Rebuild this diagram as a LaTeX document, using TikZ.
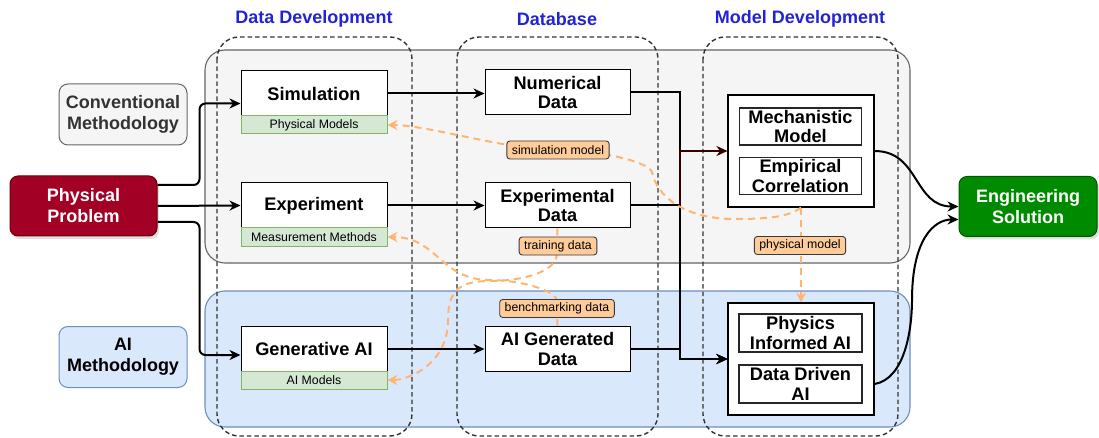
\documentclass[tikz,border=0pt]{standalone}
\usepackage{fontspec}
\setmainfont{Liberation Sans}
\usetikzlibrary{arrows.meta,shadows}

\definecolor{titleblue}{RGB}{34,34,214}
\definecolor{convfill}{HTML}{F5F5F5}
\definecolor{convline}{HTML}{666666}
\definecolor{convtext}{HTML}{333333}
\definecolor{aifill}{HTML}{DAE8FC}
\definecolor{ailine}{HTML}{6C8EBF}
\definecolor{stripfill}{HTML}{D5E8D4}
\definecolor{stripline}{HTML}{82B366}
\definecolor{probred}{HTML}{A20025}
\definecolor{probline}{HTML}{6F0000}
\definecolor{solgreen}{HTML}{008A00}
\definecolor{solline}{HTML}{005700}
\definecolor{orangeline}{HTML}{FFB570}
\definecolor{tagfill}{HTML}{FFCC99}
\definecolor{tagline}{HTML}{36393D}
\definecolor{colline}{HTML}{333333}
\definecolor{darkflow}{HTML}{330000}

\begin{document}
\begin{tikzpicture}[x=1pt,y=-1pt,
  boxfont/.style={font=\fontsize{18.2}{19.5}\selectfont\bfseries},
  procbox/.style={draw=black, line width=1pt, fill=white, minimum width=146pt,
    minimum height=45pt, align=center, inner sep=2pt, boxfont},
  stripbox/.style={draw=stripline, fill=stripfill, line width=1pt, minimum width=146pt,
    minimum height=18pt, inner sep=0pt, font=\fontsize{12.3}{14}\selectfont},
  outerbox/.style={draw=black, line width=1.1pt, fill=white, minimum width=146pt,
    minimum height=112pt},
  innerbox/.style={draw=black!85, line width=1.1pt, fill=white, minimum width=122pt,
    minimum height=37pt, align=center, inner sep=1pt, boxfont},
  sidebox/.style={rounded corners=9pt, line width=1pt, minimum width=128pt,
    minimum height=61pt, align=center, font=\fontsize{18}{21}\selectfont\bfseries},
  endbox/.style={rounded corners=8pt, line width=1pt, minimum height=60pt, align=center,
    text=white, font=\fontsize{18}{21}\selectfont\bfseries,
    drop shadow={shadow xshift=2pt, shadow yshift=-3pt, opacity=0.25}},
  column/.style={draw=colline, dash pattern=on 4.5pt off 3pt, line width=1.4pt,
    rounded corners=22pt},
  lane/.style={rounded corners=20pt, line width=1.1pt},
  flow/.style={line width=2pt, -{Stealth[length=11pt,width=10pt,inset=3.5pt]}},
  odash/.style={draw=orangeline, line width=2pt, dash pattern=on 7pt off 5pt,
    -{Stealth[length=10pt,width=10pt,inset=3.5pt]}},
  tag/.style={draw=tagline, fill=tagfill, rounded corners=3pt, line width=0.9pt,
    font=\fontsize{12.3}{14}\selectfont, inner xsep=5pt, inner ysep=0pt, minimum height=18pt},
  heading/.style={text=titleblue, font=\fontsize{18}{21}\selectfont\bfseries}
]
\useasboundingbox (0,0) rectangle (1099,438);

% swim lanes
\draw[lane, fill=convfill, draw=convline] (205,50) rectangle (910,263);
\draw[lane, fill=aifill, draw=ailine] (205,291) rectangle (910,427);

% stage columns
\draw[column] (217,37) rectangle (412,436);
\draw[column] (457,37) rectangle (658,436);
\draw[column] (703,37) rectangle (898,436);

% headings
\node[heading] (hData) at (314,19) {Data Development};
\node[heading] (hBase) at (557,19) {Database};
\node[heading] (hModel) at (800,19) {Model Development};

% lane labels
\node[sidebox, fill=convfill, draw=convline, text=convtext] (conv) at (123,114.5) {Conventional\\Methodology};
\node[sidebox, fill=aifill, draw=ailine] (aim) at (123,357) {AI\\Methodology};

% problem and solution
\node[endbox, fill=probred, draw=probline, minimum width=147pt] (prob) at (83.5,206) {Physical\\Problem};
\node[endbox, fill=solgreen, draw=solline, minimum width=138pt] (sol) at (1028,206.5) {Engineering\\Solution};

% data development
\node[procbox] (sim) at (314,93.5) {Simulation};
\node[stripbox] (phys) at (314,125) {Physical Models};
\node[procbox] (exp) at (314,205.5) {Experiment};
\node[stripbox] (meas) at (314,237) {Measurement Methods};
\node[procbox] (gen) at (314,349) {Generative AI};
\node[stripbox] (aimod) at (314,380) {AI Models};

% database
\node[procbox, minimum width=145pt] (num) at (557.5,92.5) {Numerical\\Data};
\node[procbox, minimum width=145pt] (expd) at (557.5,205.5) {Experimental\\Data};
\node[procbox, minimum width=145pt] (aid) at (557.5,349) {AI Generated\\Data};

% model development
\node[outerbox] (cm) at (801,151) {};
\node[innerbox] (mech) at (800.5,126.5) {Mechanistic\\Model};
\node[innerbox] (emp) at (800.5,176) {Empirical\\Correlation};
\node[outerbox] (am) at (801,359) {};
\node[innerbox, minimum height=38pt, minimum width=123pt] (piai) at (800.5,333) {Physics\\Informed AI};
\node[innerbox, minimum height=38pt, minimum width=123pt] (ddai) at (800.5,384) {Data Driven\\AI};

% main flow
\draw[flow, rounded corners=6pt] ([yshift=21pt]prob.east) -- ++(42,0) |- ([yshift=-10pt]sim.west);
\draw[flow] (prob.east) -- (exp.west);
\draw[flow, rounded corners=6pt] ([yshift=-16pt]prob.east) -- ++(42,0) |- ([yshift=-6pt]gen.west);
\draw[flow] (sim.east) -- (sim.east -| num.west);
\draw[flow] (exp.east) -- (expd.west);
\draw[flow] (gen.east) -- (aid.west);

\draw[flow] (num.east) -- ++(49,0) |- (am.west);
\draw[flow] (aid.east) -- ++(49,0) |- (am.west);
\draw[flow, draw=darkflow] (expd.east) -- ++(49,0) |- (cm.west);
\draw[flow] (expd.east) -- ++(49,0) |- (am.west);

\draw[flow] (cm.east) .. controls +(45,0) and +(-45,0) .. (sol.west);
\draw[flow] (am.east |- ddai.east) .. controls +(30,-5) and +(0,30) .. (912,300)
  .. controls +(0,-60) and +(-25,0) .. ([yshift=-13pt]sol.west);

% knowledge feedback
\draw[odash] (cm.south) .. controls +(-12,9) and +(35,0) .. (735,219)
  .. controls +(-50,0) and +(5,25) .. (652,172)
  .. controls +(-5,-12) and +(35,0) .. (557,150)
  .. controls +(-50,0) and +(40,0) .. (phys.east);
\draw[odash] (cm.south) -- (am.north);
\draw[odash] (expd.south) -- (557,253) .. controls +(0,20) and +(30,0) .. (490,281)
  .. controls +(-30,0) and +(0,-30) .. (448,320)
  .. controls +(0,45) and +(20,0) .. (aimod.east);
\draw[odash] (aid.north) -- (557,300) .. controls +(-5,-12) and +(25,0) .. (490,280)
  .. controls +(-50,0) and +(50,0) .. (meas.east);

% edge labels
\node[tag] (tSim) at (558,150) {simulation model};
\node[tag] (tTrain) at (558,246) {training data};
\node[tag] (tBench) at (557,308.5) {benchmarking data};
\node[tag] (tPhys) at (800,245.5) {physical model};
\end{tikzpicture}
\end{document}
